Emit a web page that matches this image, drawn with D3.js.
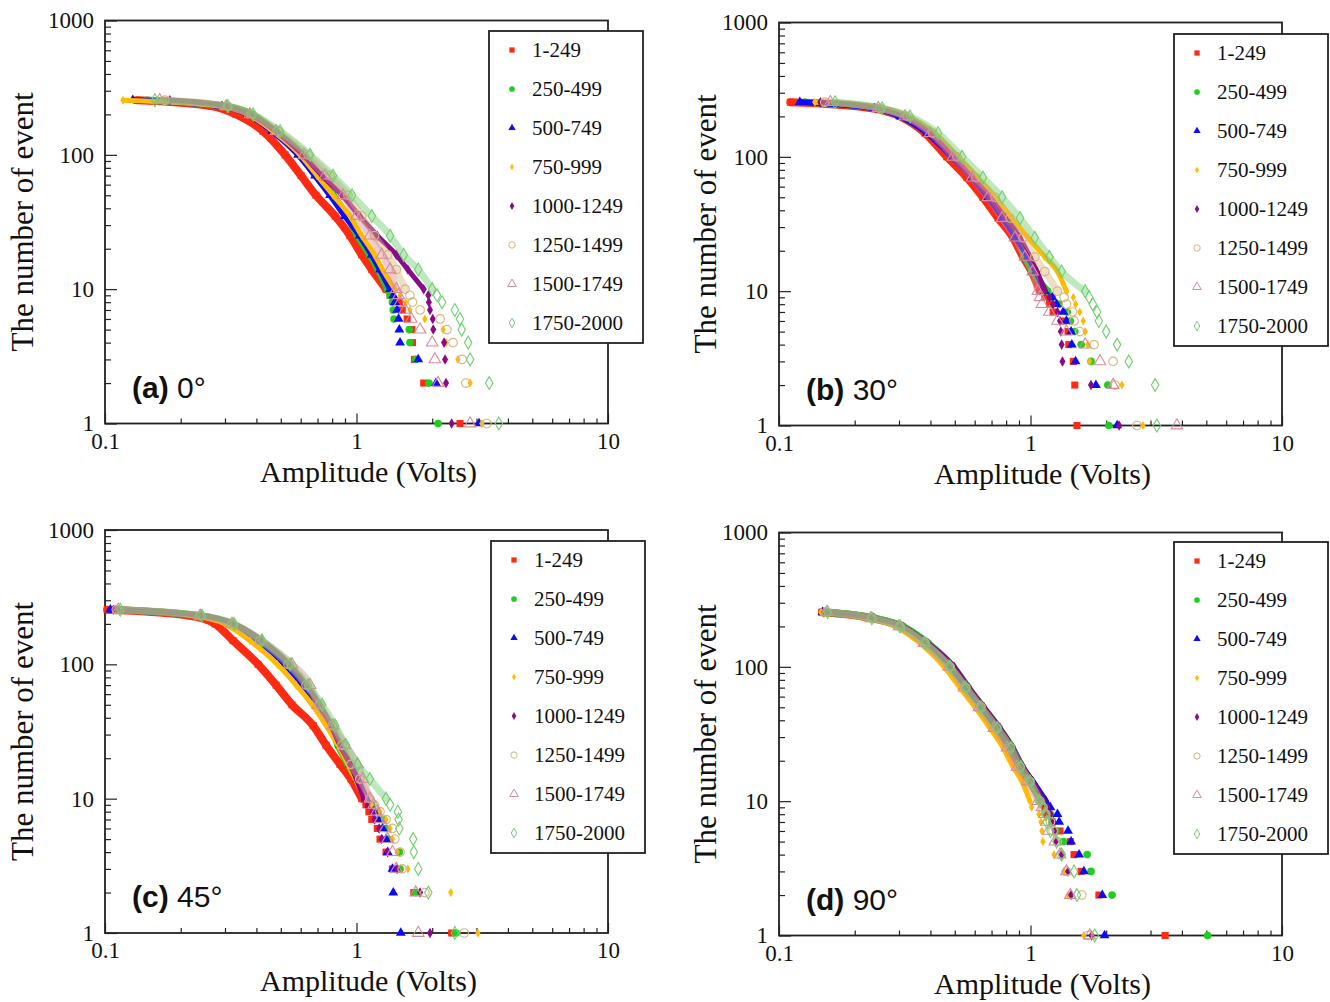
<!DOCTYPE html>
<html>
<head>
<meta charset="utf-8">
<script src="https://cdn.jsdelivr.net/npm/d3@7"></script>
<style>
body { margin: 0; background: #fff; }
svg text { font-family: "Liberation Serif", "Times New Roman", serif; fill: #111; }
</style>
</head>
<body>
<div id="container"></div>
<script>
var width = 1330,
    height = 1002,
    pw = 503,
    ph = 403;

// number of events with amplitude >= A (shared by every series)
var counts = [255, 230, 200, 150, 100, 70, 50, 35, 25, 18, 14, 10, 9, 8, 7, 6, 5, 4, 3, 2, 1];
var seriesNames = ["1-249", "250-499", "500-749", "750-999", "1000-1249", "1250-1499", "1500-1749", "1750-2000"];

// amplitude (Volts) read at each count, one row per series
var amp0 = [
  [.134, .267, .332, .425, .520, .602, .690, .822, .942, 1.05, 1.15, 1.31, 1.36, 1.48, 1.52, 1.59, 1.66, 1.67, 1.70, 1.85, 2.58],
  [.147, .300, .384, .474, .607, .703, .807, .917, 1.01, 1.13, 1.22, 1.33, 1.36, 1.39, 1.40, 1.41, 1.62, 1.63, 1.72, 1.94, 2.11],
  [.129, .292, .370, .462, .586, .684, .785, .900, 1.03, 1.15, 1.24, 1.36, 1.40, 1.42, 1.45, 1.47, 1.48, 1.49, 1.76, 2.07, 3.07],
  [.118, .292, .370, .465, .596, .697, .807, .942, 1.05, 1.18, 1.27, 1.42, 1.49, 1.57, 1.63, 1.87, 2.21, 2.27, 2.53, 2.83, 3.15],
  [.181, .303, .377, .479, .612, .730, .876, 1.03, 1.21, 1.44, 1.60, 1.85, 1.93, 1.94, 1.96, 2.01, 2.02, 2.23, 2.25, 2.27, 2.39],
  [.173, .308, .384, .488, .642, .785, .925, 1.05, 1.18, 1.33, 1.44, 1.56, 1.63, 1.67, 1.79, 2.15, 2.29, 2.42, 2.63, 2.72, 3.30],
  [.165, .303, .377, .479, .618, .750, .884, 1.00, 1.13, 1.26, 1.36, 1.44, 1.47, 1.49, 1.56, 1.65, 1.79, 2.00, 2.05, 2.11, 2.83],
  [.158, .308, .388, .497, .654, .807, .960, 1.15, 1.36, 1.54, 1.76, 2.00, 2.09, 2.19, 2.46, 2.58, 2.62, 2.78, 2.83, 3.37, 3.68]
];
var amp30 = [
  [.111, .234, .303, .381, .465, .559, .647, .743, .852, .934, 1.01, 1.09, 1.14, 1.19, 1.23, 1.36, 1.41, 1.42, 1.48, 1.50, 1.53],
  [.127, .248, .317, .406, .502, .602, .703, .800, .892, .951, 1.02, 1.17, 1.22, 1.30, 1.40, 1.44, 1.50, 1.59, 1.74, 2.03, 2.05],
  [.121, .239, .303, .388, .488, .586, .678, .778, .876, .977, 1.05, 1.14, 1.22, 1.27, 1.35, 1.39, 1.45, 1.46, 1.51, 1.82, 2.21],
  [.139, .252, .323, .417, .515, .618, .723, .845, .977, 1.14, 1.28, 1.39, 1.48, 1.51, 1.57, 1.62, 1.65, 1.69, 1.72, 2.31, 2.80],
  [.146, .243, .311, .399, .492, .586, .690, .793, .908, .995, 1.06, 1.14, 1.19, 1.23, 1.28, 1.31, 1.32, 1.33, 1.34, 1.74, 2.25],
  [.152, .252, .323, .409, .510, .607, .723, .830, .934, 1.04, 1.14, 1.28, 1.36, 1.39, 1.47, 1.49, 1.57, 1.79, 2.13, 2.17, 2.65],
  [.160, .248, .317, .399, .492, .586, .678, .771, .868, .951, 1.02, 1.07, 1.09, 1.11, 1.19, 1.28, 1.39, 1.65, 1.89, 2.13, 3.82],
  [.167, .257, .332, .429, .534, .647, .771, .908, 1.04, 1.19, 1.33, 1.65, 1.71, 1.77, 1.84, 1.87, 2.00, 2.21, 2.46, 3.13, 3.18]
];
var amp45 = [
  [.102, .218, .274, .323, .406, .479, .554, .672, .757, .860, .951, 1.05, 1.09, 1.12, 1.15, 1.21, 1.24, 1.31, 1.39, 1.69, 2.39],
  [.107, .239, .320, .413, .534, .624, .703, .785, .845, .925, 1.00, 1.09, 1.15, 1.21, 1.27, 1.31, 1.33, 1.48, 1.49, 1.72, 2.49],
  [.105, .239, .314, .406, .520, .613, .697, .785, .860, .942, 1.01, 1.09, 1.13, 1.18, 1.22, 1.27, 1.31, 1.33, 1.39, 1.40, 1.50],
  [.109, .228, .300, .377, .484, .575, .666, .757, .845, .925, .990, 1.08, 1.15, 1.24, 1.31, 1.36, 1.39, 1.45, 1.60, 2.37, 3.04],
  [.108, .243, .326, .421, .539, .630, .716, .792, .860, .942, 1.00, 1.07, 1.11, 1.16, 1.18, 1.23, 1.26, 1.33, 1.45, 1.79, 1.96],
  [.111, .239, .320, .413, .534, .630, .716, .800, .876, .951, 1.03, 1.13, 1.18, 1.24, 1.31, 1.39, 1.42, 1.49, 1.52, 1.87, 2.68],
  [.113, .239, .320, .421, .554, .654, .703, .807, .900, 1.01, 1.06, 1.13, 1.17, 1.20, 1.24, 1.30, 1.33, 1.39, 1.44, 1.72, 1.76],
  [.115, .243, .326, .421, .544, .642, .730, .822, .908, 1.01, 1.13, 1.31, 1.36, 1.46, 1.47, 1.48, 1.68, 1.69, 1.76, 1.93, 2.46]
];
var amp90 = [
  [.148, .234, .303, .381, .479, .549, .630, .730, .830, .908, .995, 1.11, 1.14, 1.16, 1.22, 1.31, 1.44, 1.49, 1.59, 1.87, 3.43],
  [.152, .241, .311, .391, .492, .565, .647, .750, .845, .925, 1.01, 1.12, 1.17, 1.20, 1.22, 1.26, 1.35, 1.68, 1.74, 2.11, 5.06],
  [.149, .237, .306, .384, .484, .554, .636, .737, .837, .925, 1.02, 1.15, 1.20, 1.28, 1.30, 1.41, 1.45, 1.56, 1.63, 1.93, 1.97],
  [.147, .226, .290, .363, .453, .524, .602, .690, .778, .852, .925, .995, 1.01, 1.08, 1.10, 1.11, 1.12, 1.24, 1.36, 1.41, 1.63],
  [.151, .239, .311, .391, .497, .570, .654, .757, .852, .934, 1.02, 1.13, 1.17, 1.20, 1.23, 1.25, 1.26, 1.33, 1.41, 1.45, 1.75],
  [.154, .234, .303, .381, .479, .554, .636, .737, .830, .908, .995, 1.09, 1.12, 1.15, 1.20, 1.23, 1.28, 1.32, 1.39, 1.60, 1.69],
  [.155, .232, .300, .377, .474, .544, .624, .716, .807, .884, .969, 1.07, 1.11, 1.14, 1.16, 1.18, 1.25, 1.31, 1.39, 1.44, 1.72],
  [.156, .234, .303, .381, .479, .554, .636, .737, .837, .917, .995, 1.09, 1.13, 1.15, 1.16, 1.20, 1.27, 1.33, 1.49, 1.53, 1.80]
];
var panelTags = ["(a)", "(b)", "(c)", "(d)"];
var panelAngles = ["0°", "30°", "45°", "90°"];
var xTickValues = [0.1, 1, 10];
var yTickValues = [1, 10, 100, 1000];
var xTickLabels = ["0.1", "1", "10"];
var yTickLabels = ["1", "10", "100", "1000"];

// styles
var colors = ["#ff2a12", "#22cc22", "#0a0aff", "#ffbb00", "#8a0a8a", "#d9b57c", "#d88c9c", "#6fcf6f"];
var shapes = [d3.symbolSquare, d3.symbolCircle, d3.symbolTriangle, d3.symbolDiamond,
              d3.symbolDiamond, d3.symbolCircle, d3.symbolTriangle, d3.symbolDiamond];
var sizes = [50, 46, 42, 24, 32, 58, 58, 48];
var hollow = [false, false, false, false, false, true, true, true];
var bandWidth = [8, 7, 6, 5, 5, 7, 7, 7];

var layout = [
  { data: amp0,  left: 105, top: 20.5, legX: 384, legY: 10.5, titleX: -83 },
  { data: amp30, left: 779, top: 22.5, legX: 395, legY: 11.5, titleX: -74 },
  { data: amp45, left: 105, top: 530,  legX: 386, legY: 11,   titleX: -83 },
  { data: amp90, left: 779, top: 532.5, legX: 395, legY: 9.5, titleX: -74 }
];

var svg = d3.select('#container')
    .append('svg')
    .attr('width', width)
    .attr('height', height);

var x = d3.scaleLog().domain([0.1, 10]).range([0, pw]);
var y = d3.scaleLog().domain([1, 1000]).range([ph, 0]);

var xMinor = x.ticks().filter(function (d) { return xTickValues.indexOf(d) < 0; });
var yMinor = y.ticks().filter(function (d) { return yTickValues.indexOf(d) < 0; });

var band = d3.line()
    .x(function (d) { return x(d[0]); })
    .y(function (d) { return y(d[1]); })
    .curve(d3.curveMonotoneX);

layout.forEach(function (p, pi) {
  var g = svg.append('g')
      .attr('transform', 'translate(' + p.left + ',' + p.top + ')');

  // minor ticks
  g.append('g').attr('class', 'minor')
      .call(d3.axisLeft(y).tickValues(yMinor).tickSize(-6).tickFormat(''));
  g.append('g').attr('class', 'minor')
      .attr('transform', 'translate(0,' + ph + ')')
      .call(d3.axisBottom(x).tickValues(xMinor).tickSize(-5).tickFormat(''));
  // major ticks with labels
  g.append('g').attr('class', 'major')
      .call(d3.axisLeft(y).tickValues(yTickValues).tickSize(-12).tickPadding(11)
        .tickFormat(function (d, i) { return yTickLabels[i]; }));
  g.append('g').attr('class', 'major')
      .attr('transform', 'translate(0,' + ph + ')')
      .call(d3.axisBottom(x).tickValues(xTickValues).tickSize(-10).tickPadding(9)
        .tickFormat(function (d, i) { return xTickLabels[i]; }));
  g.selectAll('.domain').remove();
  g.selectAll('.tick line').attr('stroke', '#222').attr('stroke-width', 1.2);
  g.selectAll('.tick text')
      .style('font-family', '"Liberation Serif", serif')
      .style('font-size', '23px')
      .attr('fill', '#111');

  // frame
  g.append('rect')
      .attr('width', pw).attr('height', ph)
      .attr('fill', 'none').attr('stroke', '#222').attr('stroke-width', 1.8);

  // series
  p.data.forEach(function (amps, si) {
    var pts = amps.map(function (a, i) { return [a, counts[i]]; });
    var sg = g.append('g');
    sg.append('path')
        .attr('d', band(pts.filter(function (d) { return d[1] >= 10; })))
        .attr('fill', 'none')
        .attr('stroke', colors[si])
        .attr('stroke-width', bandWidth[si])
        .attr('stroke-linecap', 'round')
        .attr('stroke-linejoin', 'round')
        .attr('stroke-opacity', hollow[si] ? 0.45 : 1);
    sg.selectAll('path.pt')
        .data(pts)
        .enter().append('path')
        .attr('class', 'pt')
        .attr('transform', function (d) { return 'translate(' + x(d[0]) + ',' + y(d[1]) + ')'; })
        .attr('d', d3.symbol().type(shapes[si]).size(sizes[si]))
        .attr('fill', hollow[si] ? 'none' : colors[si])
        .attr('stroke', hollow[si] ? colors[si] : 'none')
        .attr('stroke-width', 1.1);
  });

  // legend
  var lg = g.append('g').attr('transform', 'translate(' + p.legX + ',' + p.legY + ')');
  lg.append('rect')
      .attr('width', 154).attr('height', 312)
      .attr('fill', '#fff').attr('stroke', '#222').attr('stroke-width', 1.8);
  seriesNames.forEach(function (name, si) {
    var ly = 19 + si * 39;
    lg.append('path')
        .attr('transform', 'translate(23,' + ly + ')')
        .attr('d', d3.symbol().type(shapes[si]).size(sizes[si] * 0.55))
        .attr('fill', hollow[si] ? 'none' : colors[si])
        .attr('stroke', hollow[si] ? colors[si] : 'none')
        .attr('stroke-width', 1);
    lg.append('text')
        .attr('x', 43).attr('y', ly).attr('dy', '0.35em')
        .style('font-size', '21px')
        .text(name);
  });

  // axis titles
  g.append('text')
      .attr('transform', 'translate(' + p.titleX + ',' + (ph / 2) + ') rotate(-90)')
      .attr('text-anchor', 'middle')
      .attr('dy', '0.35em')
      .style('font-size', '31px')
      .text('The number of event');
  g.append('text')
      .attr('x', pw / 2 + 12).attr('y', ph + 58)
      .attr('text-anchor', 'middle')
      .style('font-size', '30px')
      .text('Amplitude (Volts)');

  // panel tag
  var t = g.append('text')
      .attr('x', 27).attr('y', 377)
      .style('font-family', '"Liberation Sans", Arial, sans-serif')
      .style('font-size', '30px');
  t.append('tspan').style('font-weight', 'bold').text(panelTags[pi]);
  t.append('tspan').text(' ' + panelAngles[pi]);
});
</script>
</body>
</html>
